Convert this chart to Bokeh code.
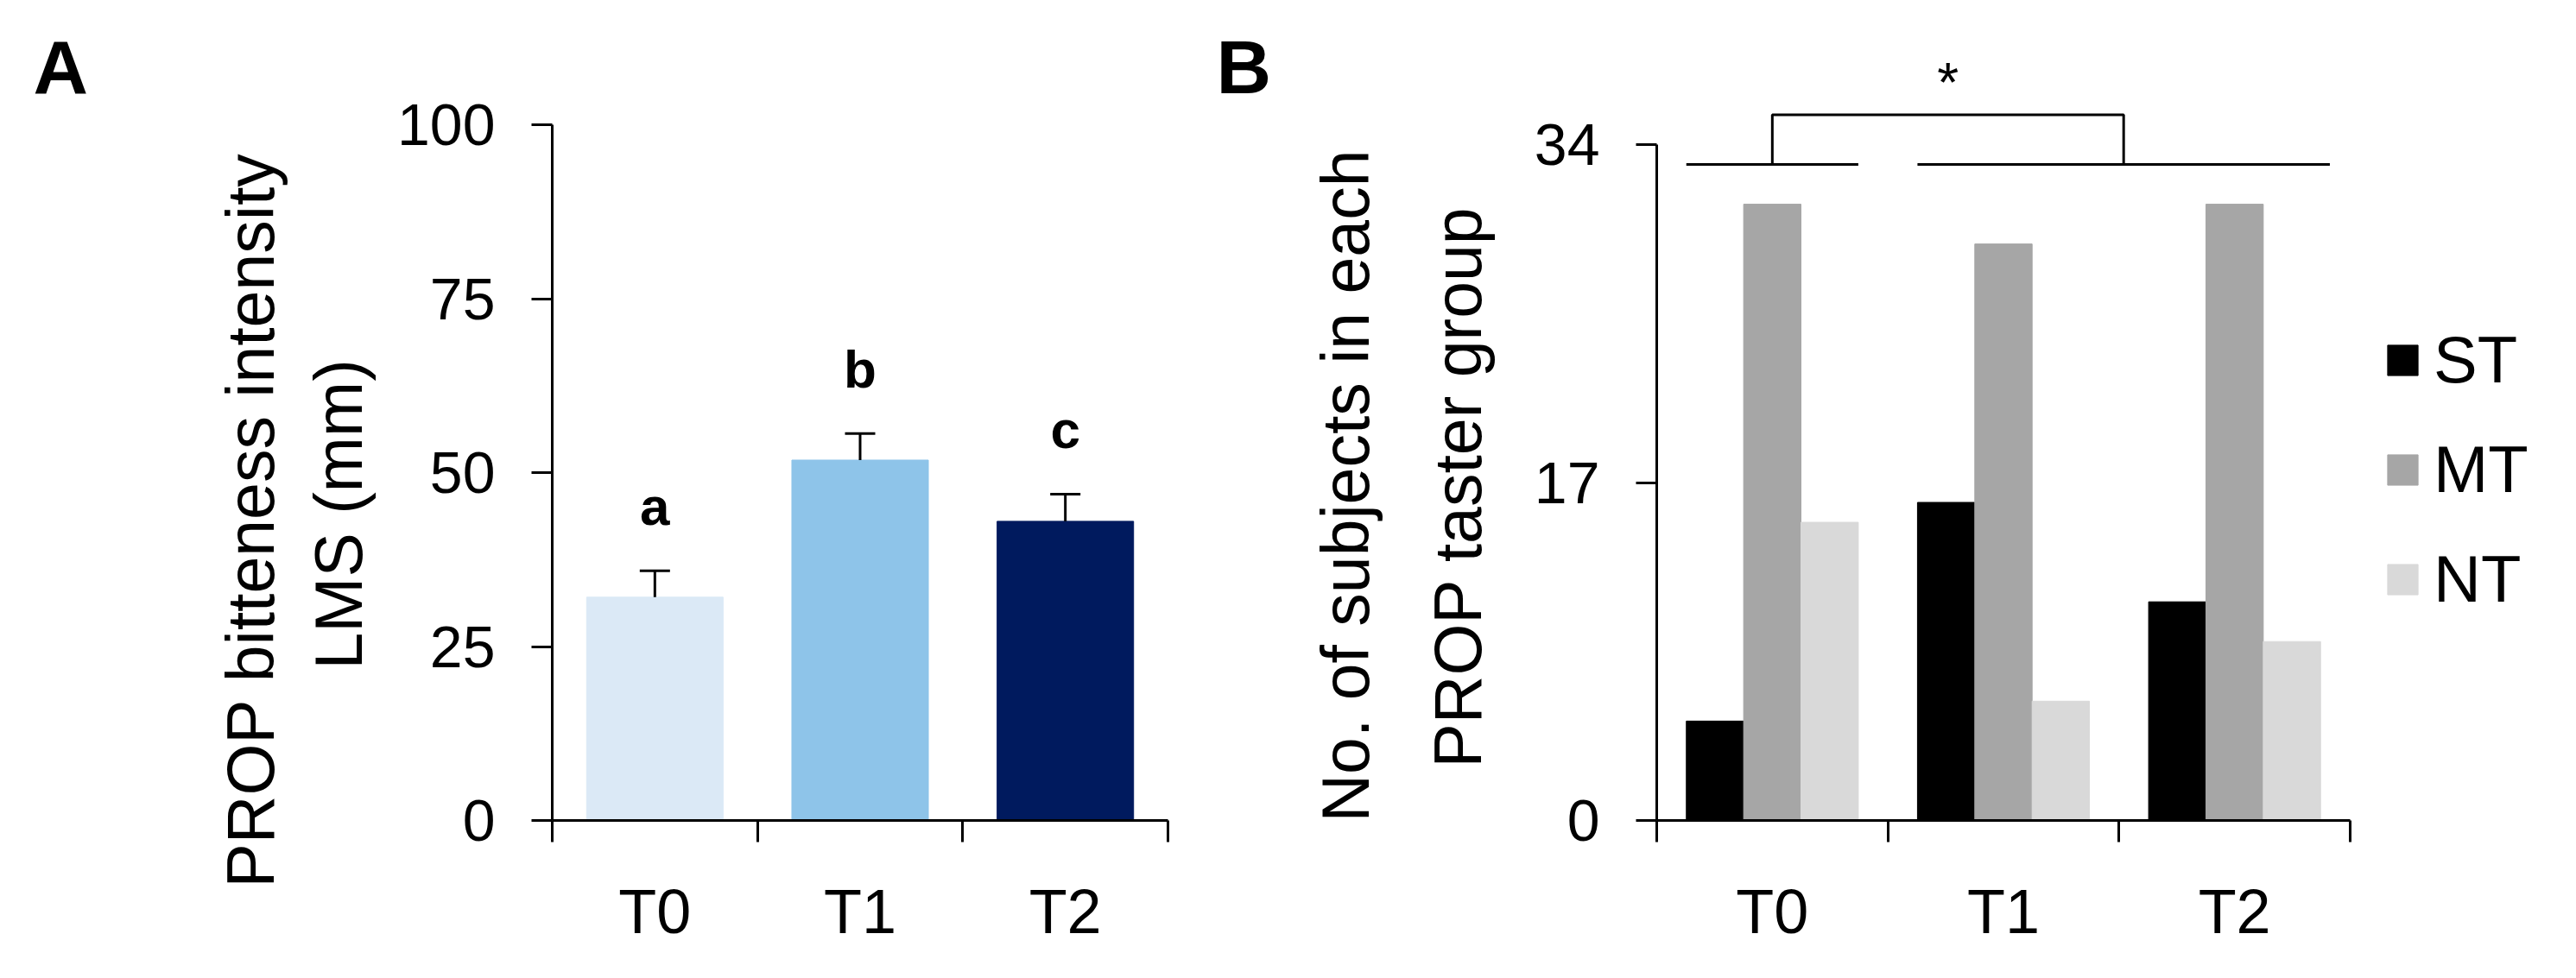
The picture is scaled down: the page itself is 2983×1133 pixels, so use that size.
import numpy as np
from bokeh.plotting import figure
from bokeh.layouts import row
from bokeh.models import (FixedTicker, Legend, LegendItem, Whisker, Title,
                          TeeHead, ColumnDataSource, Range1d)
from bokeh.embed import file_html
from bokeh.resources import INLINE
from bokeh.core.properties import value

FONT = "Liberation Sans"

# ---------------- data: panel A ----------------
times = ["T0", "T1", "T2"]
bitterness = [32.1, 51.8, 43.0]          # PROP bitterness intensity (mm)
bitterness_sem = [3.8, 3.8, 3.9]
sig_letters = ["a", "b", "c"]
bar_colors_a = ["#DBE9F6", "#8EC4E9", "#001A5E"]
yticks_a = [0, 25, 50, 75, 100]
ylabel_a = ["PROP bitteness intensity", "LMS (mm)"]

# ---------------- data: panel B ----------------
taster_groups = ["ST", "MT", "NT"]
counts_ST = [5, 16, 11]
counts_MT = [31, 29, 31]
counts_NT = [15, 6, 9]
group_colors = ["#000000", "#A6A6A6", "#D9D9D9"]
yticks_b = [0, 17, 34]
ylabel_b = ["No. of subjects in each", "PROP taster group"]
significance = "*"
panel_letters = ["A", "B"]

centers = np.arange(len(times)) + 0.5
boundaries = list(np.arange(len(times) + 1).astype(float))

# ---------------- layout constants (pixels) ----------------
W, H = 2967, 1117
TOP, BOTTOM = 20, 167
FRAME_H = H - TOP - BOTTOM
WFA, WA, WFB = 120, 1272, 85
WB = W - WFA - WA - WFB
A_LEFT, A_RIGHT = 519, 40
B_LEFT, B_RIGHT = 441, 10
A_PXY = 806 / 100          # px per unit, panel A
B_PXY = 783 / 34           # px per unit, panel B
A_YEND = FRAME_H / A_PXY
B_YEND = FRAME_H / B_PXY
B_XEND = 3.8817


def style(p, yticks, ymax):
    p.xgrid.visible = False
    p.ygrid.visible = False
    p.outline_line_color = None
    p.background_fill_color = "white"
    p.border_fill_color = "white"
    xa = p.xaxis[0]
    xa.ticker = FixedTicker(ticks=list(centers), minor_ticks=boundaries)
    xa.major_label_overrides = {float(c): t for c, t in zip(centers, times)}
    xa.major_tick_line_color = None
    xa.major_tick_out = 0
    xa.major_tick_in = 0
    xa.minor_tick_line_color = "black"
    xa.minor_tick_line_width = 3
    xa.minor_tick_out = 25
    xa.minor_tick_in = 0
    xa.axis_line_width = 3
    xa.axis_line_color = "black"
    xa.bounds = (0, len(times))
    xa.major_label_text_font = FONT
    xa.major_label_text_font_size = "72px"
    xa.major_label_text_color = "black"
    xa.major_label_standoff = 40
    ya = p.yaxis[0]
    ya.ticker = FixedTicker(ticks=yticks)
    ya.minor_tick_line_color = None
    ya.major_tick_out = 24
    ya.major_tick_in = 0
    ya.major_tick_line_width = 3
    ya.major_tick_line_color = "black"
    ya.axis_line_width = 3
    ya.axis_line_color = "black"
    ya.bounds = (0, ymax)
    ya.major_label_text_font = FONT
    ya.major_label_text_font_size = "68px"
    ya.major_label_text_color = "black"
    ya.major_label_standoff = 42


def add_ylabel(p, lines, offsets, standoffs):
    # y-axis label lines as rotated side titles (stacked outward from the axis)
    for txt, off, so in zip(reversed(lines), reversed(offsets), reversed(standoffs)):
        p.add_layout(Title(text=txt, align="left", offset=off, standoff=so,
                           vertical_align="top", text_font=FONT, text_font_size="77px",
                           text_font_style="normal", text_color="black"), "left")


def letter_fig(width, letter, x_px, ymid_px):
    f = figure(width=width, height=H, x_range=Range1d(0, width), y_range=Range1d(0, FRAME_H),
               x_axis_type=None, y_axis_type=None, title_location=None,
               output_backend="svg", toolbar_location=None,
               min_border_left=0, min_border_right=0,
               min_border_top=TOP, min_border_bottom=BOTTOM)
    f.outline_line_color = None
    f.background_fill_color = "white"
    f.border_fill_color = "white"
    f.text(x=[x_px], y=[ymid_px], text=[letter], text_font=value(FONT),
           text_font_style="bold", text_font_size="88px", text_align="left",
           text_baseline="middle", text_color="black")
    return f


# ---------------- panel letters ----------------
letter_mid = FRAME_H - (85 - 8 - TOP)     # vertical centre of the letters (page y 85)
fA = letter_fig(WFA, panel_letters[0], 38, letter_mid)
fB = letter_fig(WFB, panel_letters[1], 16, letter_mid)

# ---------------- panel A ----------------
pA = figure(width=WA, height=H, x_range=Range1d(0, 3), y_range=Range1d(0, A_YEND),
            output_backend="svg", toolbar_location=None, title_location=None,
            min_border_left=A_LEFT, min_border_right=A_RIGHT,
            min_border_top=TOP, min_border_bottom=BOTTOM)
style(pA, yticks_a, 100)
add_ylabel(pA, ylabel_a, offsets=[-78, 175], standoffs=[-15, 42])

upper_a = list(np.array(bitterness) + np.array(bitterness_sem))
src_a = ColumnDataSource(dict(x=centers, top=bitterness, upper=upper_a,
                              color=bar_colors_a, letter=sig_letters))
pA.vbar(x="x", top="top", width=0.665, color="color", source=src_a)
pA.add_layout(Whisker(base="x", lower="top", upper="upper", source=src_a,
                      dimension="height", line_width=3, line_color="black",
                      upper_head=TeeHead(size=35, line_width=3, line_color="black"),
                      lower_head=None, level="overlay"))
pA.text(x="x", y="upper", text="letter", source=src_a,
        text_font=value(FONT), text_font_style="bold", text_font_size="62px",
        text_align="center", text_baseline="middle", y_offset=-75, text_color="black")

# ---------------- panel B ----------------
pB = figure(width=WB, height=H, x_range=Range1d(0, B_XEND), y_range=Range1d(0, B_YEND),
            output_backend="svg", toolbar_location=None, title_location=None,
            min_border_left=B_LEFT, min_border_right=B_RIGHT,
            min_border_top=TOP, min_border_bottom=BOTTOM)
style(pB, yticks_b, 34)
add_ylabel(pB, ylabel_b, offsets=[-2, 61], standoffs=[1, 82])

bw = 0.248
offsets = [-bw, 0.0, bw]
items = []
for name, series, col, off in zip(taster_groups, [counts_ST, counts_MT, counts_NT],
                                   group_colors, offsets):
    r = pB.vbar(x=centers + off, top=series, width=bw, color=col)
    items.append(LegendItem(label=name, renderers=[r]))

legend = Legend(items=items, location=(842, 236), glyph_width=44, glyph_height=44,
                label_text_font=FONT, label_text_font_size="76px", label_text_color="black",
                label_standoff=14, spacing=40, padding=0, margin=0,
                border_line_color=None, background_fill_alpha=0)
pB.add_layout(legend)

# significance bracket: T0 vs (T1, T2)
half_group = 1.5 * bw
bracket_low, bracket_high = 33.0, 35.5
left_span = [centers[0] - half_group, centers[0] + half_group]
right_span = [centers[1] - half_group, centers[2] + half_group + 0.04]
right_mid = (right_span[0] + right_span[1]) / 2
pB.multi_line(xs=[left_span, right_span], ys=[[bracket_low] * 2, [bracket_low] * 2],
              line_color="black", line_width=3)
pB.line(x=[centers[0], centers[0], right_mid, right_mid],
        y=[bracket_low, bracket_high, bracket_high, bracket_low],
        line_color="black", line_width=3)
pB.text(x=[(centers[0] + right_mid) / 2], y=[bracket_high], text=[significance],
        text_font=value(FONT), text_font_size="64px", text_align="center",
        text_baseline="middle", y_offset=-37, text_color="black")

layout = row(fA, pA, fB, pB)
open("out.html", "w").write(file_html(layout, INLINE))
